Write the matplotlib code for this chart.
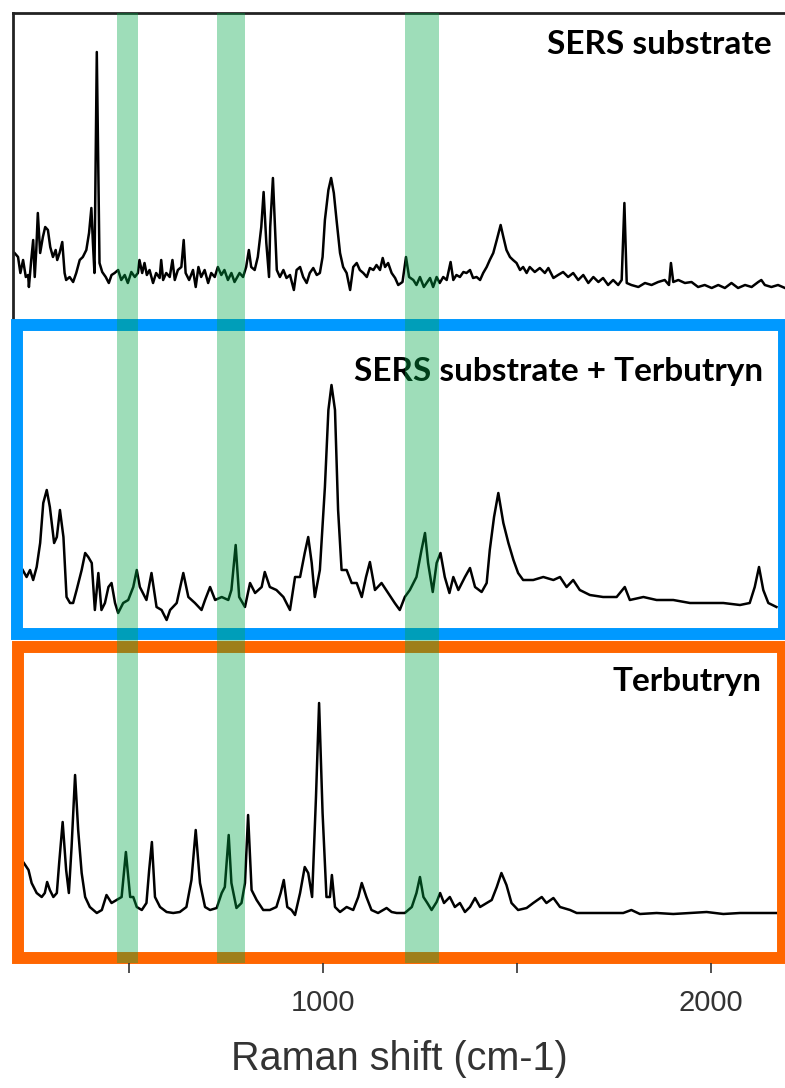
import matplotlib
matplotlib.use("Agg")
import matplotlib.pyplot as plt
from matplotlib.patches import Rectangle

# Raman shift (cm-1) / intensity (a.u.)
sub_shift = [205, 214, 220, 227, 234, 240, 242, 248, 253, 257, 261, 265, 271, 278, 284, 291, 297, 304, 311, 315,
             321, 328, 334, 338, 347, 356, 364, 373, 381, 390, 397, 403, 407, 411, 417, 424, 431, 440, 448, 455,
             463, 472, 480, 489, 497, 506, 515, 523, 527, 534, 540, 546, 553, 562, 570, 579, 583, 588, 596, 605,
             612, 618, 626, 635, 641, 646, 655, 665, 672, 679, 686, 695, 704, 712, 721, 729, 738, 746, 755, 764,
             772, 785, 794, 802, 809, 815, 824, 832, 841, 847, 854, 861, 864, 871, 881, 889, 898, 906, 915, 925,
             932, 941, 949, 958, 966, 975, 984, 992, 999, 1005, 1014, 1021, 1028, 1035, 1044, 1052, 1061, 1070,
             1078, 1087, 1095, 1104, 1113, 1121, 1130, 1138, 1147, 1154, 1160, 1168, 1177, 1186, 1194, 1205, 1214,
             1222, 1233, 1241, 1250, 1260, 1267, 1276, 1284, 1293, 1301, 1310, 1319, 1329, 1336, 1344, 1353, 1362,
             1370, 1379, 1387, 1396, 1405, 1413, 1422, 1430, 1439, 1448, 1458, 1465, 1473, 1482, 1490, 1499, 1508,
             1516, 1525, 1533, 1546, 1559, 1572, 1581, 1594, 1606, 1619, 1632, 1645, 1658, 1671, 1684, 1697, 1710,
             1722, 1735, 1748, 1761, 1770, 1777, 1783, 1795, 1813, 1830, 1847, 1864, 1881, 1892, 1897, 1903, 1916,
             1933, 1950, 1967, 1984, 2002, 2019, 2036, 2053, 2070, 2088, 2105, 2122, 2130, 2139, 2156, 2173, 2191]
sub_int = [47, 43, 27, 40, 23, 25, 13, 40, 60, 23, 50, 87, 47, 63, 73, 70, 53, 43, 50, 40,
           47, 58, 27, 20, 23, 18, 27, 40, 43, 50, 67, 92, 57, 27, 248, 37, 28, 23, 17, 25,
           27, 30, 20, 25, 17, 28, 23, 27, 40, 27, 37, 25, 30, 17, 27, 22, 40, 20, 27, 23,
           40, 20, 30, 33, 60, 27, 20, 30, 13, 33, 23, 30, 17, 27, 23, 33, 25, 30, 20, 27,
           18, 27, 23, 33, 50, 33, 30, 43, 73, 108, 57, 23, 73, 122, 30, 23, 30, 22, 25, 10,
           30, 33, 23, 17, 27, 32, 25, 27, 43, 80, 110, 122, 107, 80, 47, 33, 27, 10,
           33, 37, 30, 27, 23, 32, 30, 35, 30, 42, 33, 37, 27, 22, 15, 18, 43,
           23, 20, 15, 23, 13, 17, 22, 13, 23, 17, 23, 20, 38, 20, 25, 23, 28,
           27, 30, 22, 23, 20, 27, 33, 40, 47, 60, 75, 63, 50, 43, 40, 37, 30,
           33, 27, 33, 28, 32, 27, 32, 22, 25, 28, 23, 27, 20, 25, 17, 23, 18,
           22, 15, 20, 15, 20, 97, 17, 15, 13, 17, 15, 18, 20, 15, 37, 18, 20,
           17, 18, 13, 15, 12, 15, 12, 17, 12, 15, 13, 18, 20, 15, 13, 15, 12]

mix_shift = [226, 236, 245, 253, 262, 271, 279, 288, 296, 307, 314, 322, 331, 339, 348, 356, 365, 378, 387, 395,
             404, 412, 421, 429, 438, 447, 455, 464, 472, 485, 498, 511, 520, 528, 545, 558, 571, 584, 597, 606,
             623, 640, 653, 670, 687, 696, 709, 722, 739, 756, 764, 775, 784, 799, 812, 825, 842, 850, 863, 880,
             898, 915, 928, 941, 953, 962, 971, 979, 992, 1005, 1014, 1022, 1031, 1039, 1048, 1061, 1074, 1087,
             1100, 1111, 1121, 1134, 1151, 1168, 1185, 1198, 1211, 1224, 1241, 1254, 1263, 1271, 1283, 1293, 1303,
             1314, 1326, 1336, 1349, 1366, 1379, 1392, 1409, 1422, 1430, 1441, 1452, 1465, 1478, 1491, 1503, 1516,
             1542, 1568, 1594, 1611, 1628, 1645, 1662, 1688, 1722, 1757, 1778, 1791, 1826, 1860, 1903, 1946, 1989,
             2032, 2075, 2100, 2113, 2124, 2135, 2148, 2169]
mix_int = [50, 43, 50, 40, 53, 77, 117, 130, 113, 77, 83, 110, 83, 23, 17, 17, 30, 50, 67, 63,
           57, 10, 47, 10, 17, 33, 37, 17, 7, 17, 20, 33, 50, 33, 20, 47, 13, 10, 0, 10,
           17, 47, 23, 17, 10, 20, 33, 20, 23, 20, 30, 75, 23, 13, 37, 27, 33, 48, 33, 30,
           23, 10, 43, 43, 67, 83, 57, 23, 50, 133, 210, 235, 210, 110, 50, 50, 37, 37,
           23, 43, 58, 30, 37, 27, 17, 10, 23, 30, 43, 70, 87, 57, 28, 57, 67,
           43, 27, 43, 30, 43, 52, 33, 28, 37, 70, 103, 127, 97, 77, 60, 47, 40,
           40, 43, 40, 43, 33, 40, 30, 25, 23, 23, 33, 20, 23, 20, 20, 17, 17,
           17, 15, 17, 33, 53, 30, 17, 13]

ter_shift = [229, 241, 249, 262, 275, 283, 289, 296, 305, 314, 320, 329, 338, 345, 352, 361, 369, 378, 387, 399,
             417, 430, 442, 455, 468, 481, 492, 503, 511, 520, 533, 545, 552, 559, 567, 580, 597, 614, 631, 648,
             661, 672, 683, 696, 709, 726, 739, 747, 757, 764, 777, 790, 799, 807, 816, 829, 846, 863, 880, 891,
             899, 908, 919, 928, 941, 953, 962, 972, 982, 990, 999, 1009, 1018, 1023, 1031, 1044, 1061, 1078, 1091,
             1100, 1112, 1125, 1142, 1164, 1177, 1190, 1211, 1229, 1241, 1250, 1259, 1269, 1280, 1293, 1302, 1312,
             1327, 1340, 1353, 1366, 1379, 1392, 1405, 1422, 1435, 1448, 1460, 1473, 1486, 1503, 1525, 1542, 1564,
             1576, 1594, 1611, 1637, 1654, 1688, 1731, 1774, 1795, 1817, 1860, 1903, 1946, 1989, 2032, 2075, 2118,
             2169]
ter_int = [67, 60, 47, 37, 33, 37, 48, 40, 33, 37, 67, 108, 60, 37, 83, 155, 100, 57, 33, 23,
           17, 20, 35, 27, 30, 33, 78, 33, 33, 23, 20, 27, 60, 88, 33, 23, 18, 17, 18, 23,
           50, 100, 47, 23, 20, 22, 37, 43, 95, 47, 22, 27, 47, 115, 40, 30, 20, 20, 23, 37,
           50, 23, 20, 15, 37, 63, 57, 33, 133, 227, 117, 33, 33, 55, 23, 18, 23, 20, 33,
           47, 33, 20, 17, 22, 18, 17, 17, 23, 37, 53, 33, 27, 20, 28, 37, 27,
           33, 23, 27, 18, 23, 32, 23, 27, 30, 43, 57, 45, 27, 20, 22, 27, 33,
           27, 32, 23, 20, 17, 17, 17, 17, 20, 16, 17, 16, 17, 18, 16, 17, 17,
           17]

# highlighted regions (cm-1)
band_lo = [469, 727, 1211]
band_hi = [523, 799, 1299]

labels = ["SERS substrate", "SERS substrate + Terbutryn", "Terbutryn"]
major_ticks = [1000, 2000]
minor_ticks = [500, 1500]
xlim = (201, 2191)

W, H = 785, 1088
fig = plt.figure(figsize=(W / 100, H / 100), dpi=100)


def rect_px(left, top, right, bottom):
    return [left / W, 1 - bottom / H, (right - left) / W, (bottom - top) / H]


def panel(pos, x, y, ylim, label, lx, ly):
    ax = fig.add_axes(rect_px(*pos))
    ax.set_facecolor("none")
    ax.plot(x, y, color="black", lw=1.8, solid_joinstyle="round")
    ax.set_xlim(*xlim)
    ax.set_ylim(*ylim)
    ax.set_xticks([])
    ax.set_yticks([])
    for s in ax.spines.values():
        s.set_visible(False)
    ax.text(lx, ly, label, transform=ax.transAxes, ha="right", va="center",
            fontsize=24, fontweight="bold", family="Lato", color="black")
    return ax


ax1 = panel((13, 13, 785, 325), sub_shift, sub_int, (-25, 287), labels[0], 0.983, 0.90)
ax1.spines["left"].set_visible(True)
ax1.spines["top"].set_visible(True)
for s in ("left", "top"):
    ax1.spines[s].set_color("#222222")
    ax1.spines[s].set_linewidth(2)

ax2 = panel((13, 325, 785, 634), mix_shift, mix_int, (-14, 295), labels[1], 0.9715, 0.848)
ax3 = panel((13, 646.5, 785, 957.5), ter_shift, ter_int, (-27.5, 283.5), labels[2], 0.969, 0.886)

# coloured frames around the two lower spectra
fig.add_artist(Rectangle((16.5 / W, 1 - 634 / H), (784 - 16.5) / W, (634 - 325) / H,
                         transform=fig.transFigure, fill=False, ec="#0099FF", lw=8.6))
fig.add_artist(Rectangle((18 / W, 1 - 957.5 / H), (783 - 18) / W, (957.5 - 646.5) / H,
                         transform=fig.transFigure, fill=False, ec="#FF6600", lw=8.6))

# overlay axes: green bands and the shared x axis
ov = fig.add_axes(rect_px(13, 13, 785, 963), zorder=5)
ov.set_facecolor("none")
for lo, hi in zip(band_lo, band_hi):
    ov.axvspan(lo, hi, color="#00A847", alpha=0.38, lw=0)
ov.set_xlim(*xlim)
ov.set_yticks([])
for s in ov.spines.values():
    s.set_visible(False)
ov.set_xticks(major_ticks)
ov.set_xticks(minor_ticks, minor=True)
ov.tick_params(axis="x", which="both", direction="out", length=7, width=1.2, color="#333333",
               labelsize=21, labelcolor="#333333", pad=12)
for t in ov.get_xticklabels():
    t.set_family("Liberation Sans")
ov.set_xlabel("Raman shift (cm-1)", fontsize=28.5, family="Liberation Sans", color="#333333", labelpad=16)

fig.savefig("out.png", dpi=100)
